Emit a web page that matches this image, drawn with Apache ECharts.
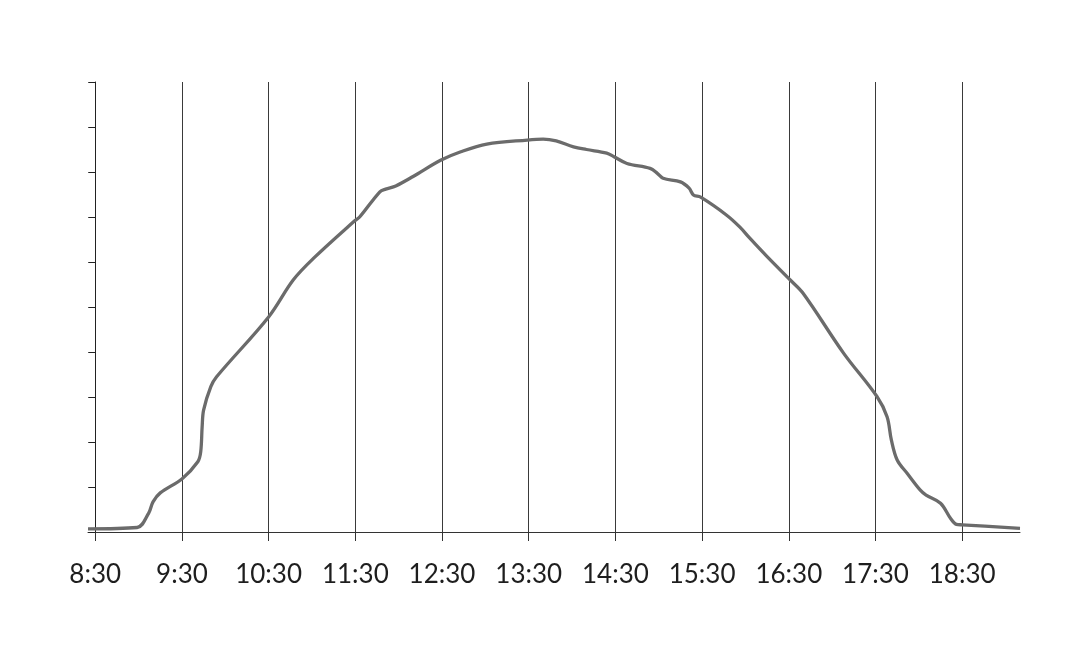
<!DOCTYPE html>
<html>
<head>
<meta charset="utf-8">
<script src="https://cdn.jsdelivr.net/npm/echarts@6/dist/echarts.min.js"></script>
<style>
  html, body { margin: 0; padding: 0; background: #ffffff; }
  #chart { width: 1091px; height: 646px; }
</style>
</head>
<body>
<div id="chart"></div>
<script>
// Clock times of the curve's points
var times = ["8:25","8:59","9:07","9:10","9:15","9:30","9:41","9:43","9:44","9:45",
  "9:50","9:54","10:30","10:47","11:01","11:29","11:33","11:47","11:51","11:58",
  "12:10","12:29","12:43","13:01","13:29","13:40","13:49","14:01","14:10","14:24",
  "14:29","14:38","14:54","14:59","15:03","15:15","15:21","15:24","15:29","15:47",
  "15:56","16:03","16:15","16:31","16:40","17:08","17:31","17:38","17:41","17:45",
  "17:52","18:01","18:05","18:15","18:22","18:26","18:30","19:10"];
// Relative output (0-100) at each time
var values = [0.7,1.0,4.2,6.7,8.7,11.8,15.6,17.8,23.4,27.1,
  32.3,34.5,47.8,56,60.8,69,70,75.6,76.2,76.9,
  79,82.6,84.5,86.2,87.1,87.3,86.9,85.6,85.0,84.2,
  83.4,81.9,80.8,79.7,78.6,77.8,76.4,74.9,74.4,70.4,
  67.8,65.3,61.2,56,53,39.7,30.1,25.6,20.4,16,
  13,9.3,8.2,6.4,3.0,1.7,1.6,0.8];
// Hour tick labels on the x axis
var tickLabels = ["8:30","9:30","10:30","11:30","12:30","13:30","14:30","15:30","16:30","17:30","18:30"];
var axisStart = "8:25";
var axisEnd = "19:10";

var ORIGIN = "8:30";
function toMin(t) { var p = t.split(":"); return (+p[0]) * 60 + (+p[1]); }
function rel(t) { return toMin(t) - toMin(ORIGIN); }
function fmt(v) {
  var m = Math.round(v + toMin(ORIGIN));
  var h = Math.floor(m / 60), mm = m % 60;
  return h + ":" + (mm < 10 ? "0" : "") + mm;
}

var seriesData = times.map(function (t, i) { return [rel(t), values[i]]; });
var tickVals = tickLabels.map(rel);

var chart = echarts.init(document.getElementById('chart'), null, { renderer: 'canvas' });
chart.setOption({
  animation: false,
  backgroundColor: '#ffffff',
  grid: { left: 88, right: 71, top: 82, bottom: 114, containLabel: false },
  xAxis: {
    type: 'value',
    min: rel(axisStart),
    max: rel(axisEnd),
    axisLine: { show: true, onZero: false, lineStyle: { color: '#333333', width: 1 } },
    axisTick: { show: true, customValues: tickVals, length: 9, inside: false,
      lineStyle: { color: '#333333', width: 1 } },
    axisLabel: { show: true, customValues: tickVals, formatter: fmt, margin: 30,
      color: '#1e1e1e', fontSize: 26, fontFamily: 'Lato', fontWeight: 'normal' },
    splitLine: { show: true, lineStyle: { color: '#3a3a3a', width: 1 } }
  },
  yAxis: {
    type: 'value',
    min: 0, max: 100, interval: 10,
    axisLine: { show: true, onZero: true, lineStyle: { color: '#222222', width: 1 } },
    axisTick: { show: true, length: 7, inside: false, lineStyle: { color: '#222222', width: 1 } },
    axisLabel: { show: false },
    splitLine: { show: false }
  },
  series: [{
    type: 'line',
    data: seriesData,
    smooth: 0.35,
    showSymbol: false,
    symbol: 'none',
    lineStyle: { color: '#6b6b6b', width: 3.3 },
    z: 5
  }]
});
</script>
</body>
</html>
